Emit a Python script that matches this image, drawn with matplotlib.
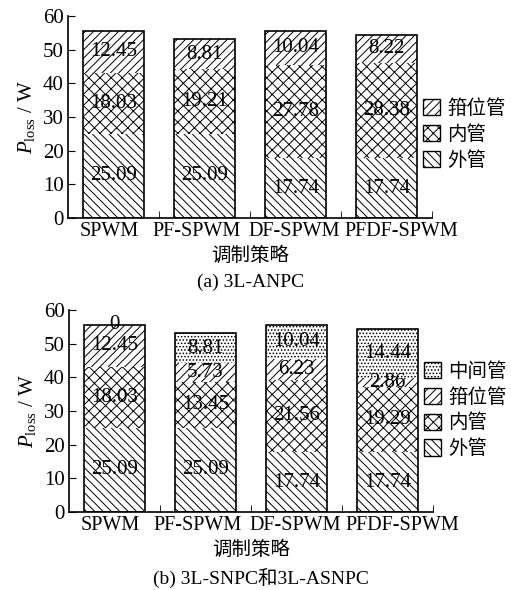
import numpy as np
import matplotlib
matplotlib.use("Agg")
from matplotlib import pyplot as plt

plt.rcParams['font.family'] = ['Liberation Serif', 'Noto Sans CJK SC']
plt.rcParams['mathtext.fontset'] = 'custom'
plt.rcParams['mathtext.rm'] = 'Liberation Serif'
plt.rcParams['mathtext.it'] = 'Liberation Serif:italic'
plt.rcParams['hatch.linewidth'] = 0.7
plt.rcParams['font.size'] = 15

methods = ["SPWM", "PF-SPWM", "DF-SPWM", "PFDF-SPWM"]

# (a) 3L-ANPC
a_outer = [25.09, 25.09, 17.74, 17.74]
a_inner = [18.03, 19.21, 27.78, 28.38]
a_clamp = [12.45, 8.81, 10.04, 8.22]

# (b) 3L-SNPC / 3L-ASNPC
b_outer = [25.09, 25.09, 17.74, 17.74]
b_inner = [18.03, 13.45, 21.56, 19.29]
b_clamp = [12.45, 5.73, 6.23, 2.86]
b_mid = [0, 8.81, 10.04, 14.44]

names = {"outer": "外管", "inner": "内管", "clamp": "箝位管", "mid": "中间管"}
hatches = {"outer": "\\\\\\\\", "inner": "xxx", "clamp": "////", "mid": "....."}

fig = plt.figure(figsize=(5.11, 5.90), dpi=100)
ax1 = fig.add_axes([0.133, 0.6305, 0.712, 0.3424])
ax2 = fig.add_axes([0.135, 0.1322, 0.712, 0.3424])

x = np.arange(len(methods))
w = 0.67
cn = ["Noto Sans CJK SC"]
# sideways shift of the category labels in points (labels are wider than the slots)
lab_dx = [-3, -6, -1, 11]


def draw(ax, series, leg_y):
    bottom = np.zeros(len(methods))
    handles = []
    for key, vals in series:
        vals = np.array(vals)
        b = ax.bar(x, vals, w, bottom=bottom, color="white", edgecolor="black",
                   hatch=hatches[key], linewidth=0, label=names[key])
        handles.append(b)
        for xi, v, b0 in zip(x, vals, bottom):
            ax.text(xi, b0 + v / 2, f"{v:g}" if v == 0 else f"{v:.2f}",
                    ha="center", va="center", fontsize=15)
        bottom = bottom + vals
    ax.bar(x, bottom, w, fill=False, edgecolor="black", linewidth=1.2)
    ax.set_xlim(-0.5, 3.5)
    ax.set_ylim(0, 60)
    ax.set_yticks(range(0, 61, 10))
    ax.set_xticks(x)
    ax.set_xticklabels([])
    for xi, m, dx in zip(x, methods, lab_dx):
        ax.annotate(m, (xi, 0), xycoords=("data", "axes fraction"),
                    xytext=(dx, -3), textcoords="offset points",
                    ha="center", va="top", fontsize=14.5)
    ax.set_xticks([0.5, 1.5, 2.5, 3.5], minor=True)
    ax.tick_params(axis="x", which="major", length=0, pad=3)
    ax.tick_params(axis="x", which="minor", direction="in", length=5)
    ax.tick_params(axis="y", direction="in", length=5, pad=3)
    ax.spines["top"].set_visible(False)
    ax.spines["right"].set_visible(False)
    for s in ax.spines.values():
        s.set_linewidth(1.2)
    ax.set_ylabel(r"$P_{\rm loss}$ / W", fontsize=15, labelpad=4)
    ax.set_xlabel("调制策略", family=cn, fontsize=14, labelpad=16)
    leg = ax.legend(handles[::-1], [h.get_label() for h in handles[::-1]],
                    loc="center left", bbox_to_anchor=(0.975, leg_y),
                    frameon=False, handlelength=0.9, handleheight=0.9,
                    handletextpad=0.35, labelspacing=0.25, borderpad=0,
                    borderaxespad=0, prop={"family": cn, "size": 14})
    for p in leg.get_patches():
        p.set_linewidth(1.0)


draw(ax1, [("outer", a_outer), ("inner", a_inner), ("clamp", a_clamp)], 0.415)
draw(ax2, [("outer", b_outer), ("inner", b_inner), ("clamp", b_clamp),
           ("mid", b_mid)], 0.505)

fig.text(0.49, 0.522, "(a) 3L-ANPC", ha="center", va="center", fontsize=14)
fig.text(0.51, 0.02, "(b) 3L-SNPC和3L-ASNPC", ha="center", va="center", fontsize=14)

fig.savefig("out.png", dpi=100)
